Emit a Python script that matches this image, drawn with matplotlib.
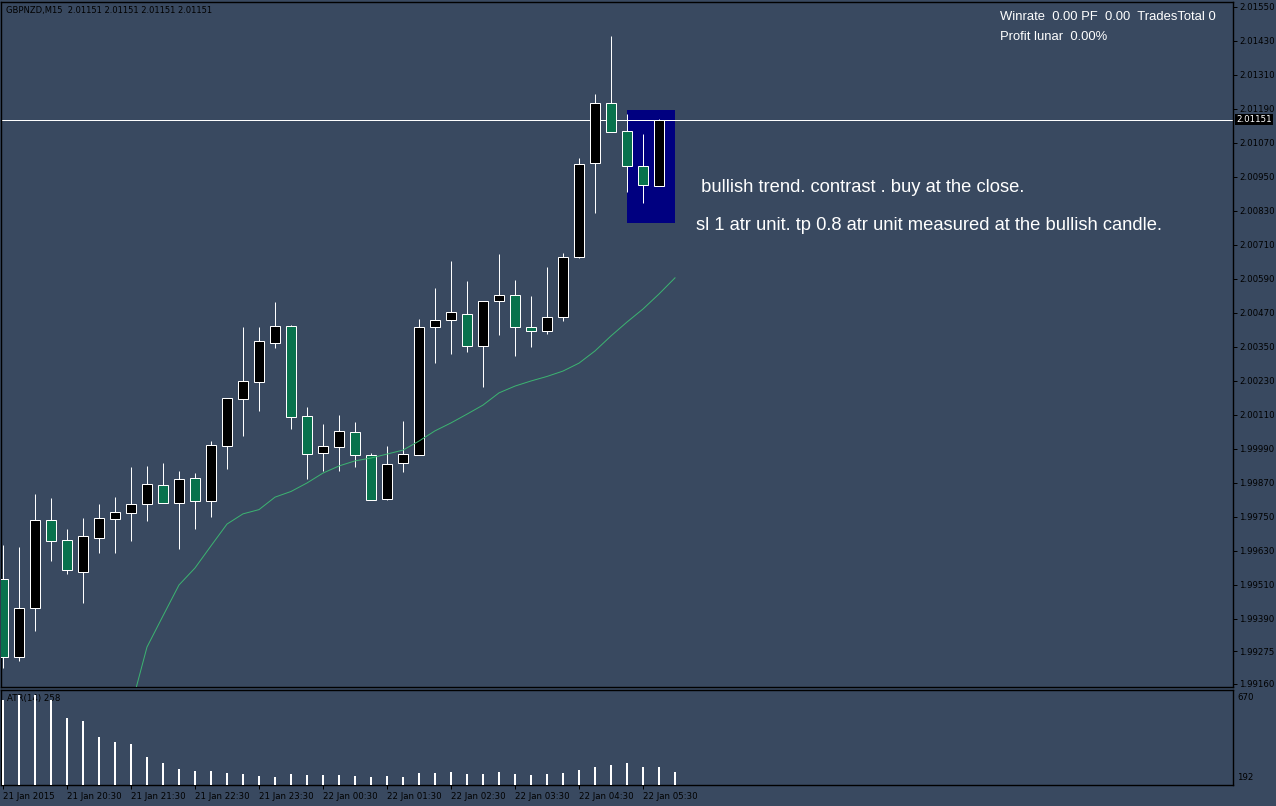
import matplotlib
matplotlib.use('Agg')
import matplotlib.pyplot as plt
from matplotlib.patches import Rectangle
import numpy as np

# ---------------- data ----------------
symbol_title = 'GBPNZD,M15  2.01151 2.01151 2.01151 2.01151'
last_price = 2.01151

opens = [1.99529, 1.99254, 1.99428, 1.99738, 1.99668, 1.99556, 1.99676, 1.99743, 1.99764, 1.99796,
         1.99861, 1.99799, 1.99886, 1.99806, 1.99999, 2.00166, 2.00227, 2.00364, 2.00422, 2.00104,
         1.99974, 1.99995, 2.00048, 1.99967, 1.99811, 1.99939, 1.99967, 2.00419, 2.00443, 2.00464,
         2.00351, 2.00510, 2.00531, 2.00419, 2.00404, 2.00454, 2.00666, 2.00997, 2.01209, 2.01110,
         2.00987, 2.00916]
closes = [1.99254, 1.99427, 1.99738, 1.99665, 1.99563, 1.99682, 1.99744, 1.99766, 1.99794, 1.99864,
          1.99799, 1.99882, 1.99806, 2.00002, 2.00168, 2.00228, 2.00369, 2.00422, 2.00103, 1.99972,
          1.99998, 2.00051, 1.99967, 1.99808, 1.99935, 1.99970, 2.00419, 2.00443, 2.00471, 2.00351,
          2.00510, 2.00531, 2.00419, 2.00404, 2.00454, 2.00666, 2.00994, 2.01209, 2.01107, 2.00987,
          2.00920, 2.01151]
highs = [1.99650, 1.99643, 1.99830, 1.99816, 1.99707, 1.99745, 1.99795, 1.99819, 1.99925, 1.99929,
         1.99940, 1.99911, 1.99904, 2.00017, 2.00168, 2.00420, 2.00420, 2.00508, 2.00426, 2.00137,
         2.00077, 2.00109, 2.00084, 1.99976, 2.00000, 2.00088, 2.00448, 2.00557, 2.00652, 2.00582,
         2.00510, 2.00677, 2.00585, 2.00529, 2.00631, 2.00680, 2.01015, 2.01242, 2.01447, 2.01170,
         2.01100, 2.01153]
lows = [1.99215, 1.99242, 1.99348, 1.99595, 1.99547, 1.99446, 1.99623, 1.99623, 1.99665, 1.99736,
        1.99799, 1.99637, 1.99708, 1.99750, 1.99917, 2.00036, 2.00124, 2.00347, 2.00061, 1.99884,
        1.99912, 1.99912, 1.99924, 1.99808, 1.99808, 1.99909, 1.99967, 2.00294, 2.00325, 2.00330,
        2.00209, 2.00390, 2.00318, 2.00350, 2.00394, 2.00439, 2.00662, 2.00823, 2.01107, 2.00897,
        2.00858, 2.00916]

ma_start = 8
ma_values = [1.99078, 1.99290, 1.99400, 1.99509, 1.99569, 1.99647, 1.99724, 1.99760, 1.99775, 1.99819,
             1.99839, 1.99869, 1.99904, 1.99929, 1.99947, 1.99957, 1.99971, 1.99985, 2.00017, 2.00053,
             2.00081, 2.00112, 2.00144, 2.00187, 2.00211, 2.00229, 2.00245, 2.00264, 2.00292, 2.00335,
             2.00388, 2.00437, 2.00483, 2.00536, 2.00593]

atr_values = [620, 645, 645, 620, 531, 516, 435, 410, 400, 334, 304, 274, 264, 264, 254, 249, 239, 234,
              249, 244, 244, 244, 239, 234, 239, 234, 254, 254, 259, 249, 249, 259, 249, 244, 249, 254,
              269, 284, 294, 304, 284, 284, 258]
atr_label = 'ATR(14) 258'
atr_scale_labels = ['670', '192']

price_ticks = [2.01550, 2.01430, 2.01310, 2.01190, 2.01070, 2.00950, 2.00830, 2.00710, 2.00590,
               2.00470, 2.00350, 2.00230, 2.00110, 1.99990, 1.99870, 1.99750, 1.99630, 1.99510,
               1.99390, 1.99275, 1.99160]

time_tick_bars = [0, 4, 8, 12, 16, 20, 24, 28, 32, 36, 40]
time_tick_labels = ['21 Jan 2015', '21 Jan 20:30', '21 Jan 21:30', '21 Jan 22:30', '21 Jan 23:30',
                    '22 Jan 00:30', '22 Jan 01:30', '22 Jan 02:30', '22 Jan 03:30', '22 Jan 04:30',
                    '22 Jan 05:30']

box_bars = (39, 42)
box_prices = (2.00788, 2.01185)

stats_line1 = 'Winrate  0.00 PF  0.00  TradesTotal 0'
stats_line2 = 'Profit lunar  0.00%'
note_line1 = ' bullish trend. contrast . buy at the close.'
note_line2 = 'sl 1 atr unit. tp 0.8 atr unit measured at the bullish candle.'

# ---------------- style ----------------
W, H = 1276, 806
BG = '#394960'
BULL = '#000000'
BEAR = '#08724D'
MA_COLOR = '#3CB371'
PX = 0.72  # one pixel in points
SMALL = 6.2

fig = plt.figure(figsize=(W / 100, H / 100), dpi=100, facecolor=BG)


def rect(x0, y0, x1, y1):
    return [x0 / W, 1 - y1 / H, (x1 - x0) / W, (y1 - y0) / H]


def fx(x):
    return x / W


def fy(y):
    return 1 - y / H


ax = fig.add_axes(rect(1, 2, 1233, 687), facecolor=BG)
ax2 = fig.add_axes(rect(1, 689.5, 1233, 785), facecolor=BG)

XLIM = (-0.125, 76.875)
for a in (ax, ax2):
    a.set_xlim(*XLIM)
    for s in a.spines.values():
        s.set_color('black')
        s.set_linewidth(1.0)

# main panel
ax.set_ylim(1.991489, 2.015666)
idx = np.arange(len(opens))
o = np.array(opens); c = np.array(closes)
up = c >= o
cols = np.where(up, BULL, BEAR)

ax.add_patch(Rectangle((box_bars[0], box_prices[0]), box_bars[1] - box_bars[0],
                       box_prices[1] - box_prices[0], facecolor='#000080', edgecolor='none', zorder=1))
ax.axhline(last_price, color='white', lw=PX, zorder=1.5)
ax.vlines(idx, lows, highs, color='white', lw=PX, zorder=2)
ax.bar(idx, c - o, bottom=o, width=0.57, color=cols, edgecolor='white', linewidth=PX, zorder=3)
ma_idx = np.arange(ma_start, ma_start + len(ma_values))
ax.plot(ma_idx, ma_values, color=MA_COLOR, lw=PX, zorder=4)

ax.set_xticks([])
ax.yaxis.tick_right()
ax.set_yticks(price_ticks)
ax.set_yticklabels([f'{v:.5f}' for v in price_ticks])
ax.tick_params(axis='y', right=True, left=False, length=3, width=PX, color='black',
               labelcolor='black', labelsize=SMALL, pad=1.5)

# ATR panel
ax2.set_ylim(192, 672.5)
ax2.bar(np.arange(len(atr_values)), atr_values, width=0.13, color='white', zorder=3)
ax2.set_yticks([])
ax2.set_xticks(time_tick_bars)
ax2.set_xticklabels(time_tick_labels)
for lbl in ax2.get_xticklabels():
    lbl.set_ha('left')
ax2.tick_params(axis='x', length=3, width=PX, color='black', labelcolor='black',
                labelsize=SMALL, pad=2)
ax2.text(fx(7), fy(698), atr_label, transform=fig.transFigure, fontsize=SMALL, color='black',
         va='center', ha='left', zorder=1)

fig.text(fx(1237), fy(697), atr_scale_labels[0], fontsize=SMALL, color='black', va='center')
fig.text(fx(1237), fy(777), atr_scale_labels[1], fontsize=SMALL, color='black', va='center')

# texts
fig.text(fx(6), fy(10), symbol_title, fontsize=6.0, color='black', va='center')
fig.text(fx(1236), fy(119.5), f'{last_price:.5f}', fontsize=SMALL, color='white', va='center',
         bbox=dict(boxstyle='square,pad=0.15', fc='black', ec='none'))
fig.text(fx(1000), fy(17), stats_line1, fontsize=9.4, color='white', va='center',
         family='Liberation Sans')
fig.text(fx(1000), fy(37), stats_line2, fontsize=9.4, color='white', va='center',
         family='Liberation Sans')
fig.text(fx(696), fy(187), note_line1, fontsize=13.2, color='white', va='center',
         family='Liberation Sans')
fig.text(fx(696), fy(225), note_line2, fontsize=13.2, color='white', va='center',
         family='Liberation Sans')

fig.savefig('out.png', dpi=100, facecolor=BG)
